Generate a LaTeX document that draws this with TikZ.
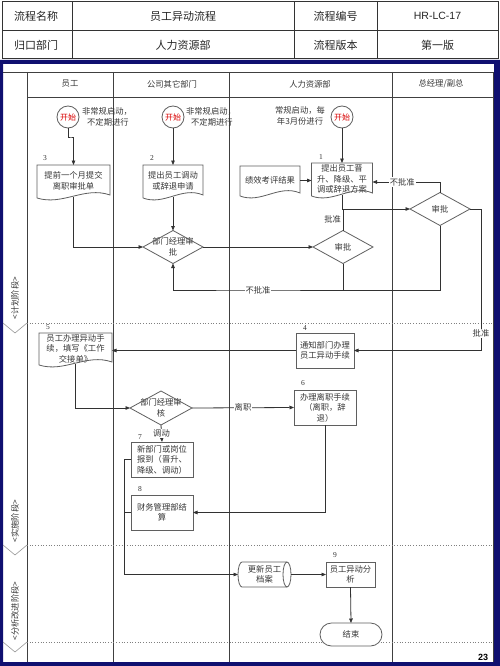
\documentclass[tikz,border=0pt]{standalone}
\usepackage{fontspec}
\setmainfont{Noto Sans CJK SC}
\newfontfamily\lsans{Liberation Sans}
\newfontfamily\lserif{Liberation Serif}
\usetikzlibrary{shapes.geometric,arrows.meta,calc}
\definecolor{navyb}{RGB}{16,16,112}
\definecolor{txt}{RGB}{55,55,55}
\definecolor{ln}{RGB}{50,50,50}
\definecolor{shpc}{RGB}{95,95,95}
\newcommand\docoutline[1]{%
  \draw[shp] ([yshift=-1pt]#1.south west) -- (#1.north west) -- (#1.north east) -- ([yshift=2pt]#1.south east)
    .. controls ($(#1.south east)!0.35!(#1.south west)+(0,-11)$) and ($(#1.south west)!0.35!(#1.south east)+(0,9)$) .. ([yshift=-1pt]#1.south west);}
\newcommand\diaoutline[1]{%
  \draw[shp] (#1.north) -- (#1.east) -- (#1.south) -- (#1.west) -- cycle;}
\begin{document}
\begin{tikzpicture}[x=1pt,y=-1pt,
  every node/.style={inner sep=0pt,outer sep=0pt},
  f/.style={font=\fontsize{8.3}{10.5}\selectfont, text=txt},
  hd/.style={font=\fontsize{11}{13}\selectfont, text=black!85},
  shp/.style={draw=shpc, line width=0.8pt},
  box/.style={shp, f, fill=white, align=center},
  ghost/.style={f, align=center},
  lane/.style={draw=black!75, line width=0.8pt},
  con/.style={draw=ln, line width=0.8pt},
  arr/.style={con, -{Triangle[length=4.5pt,width=3.6pt]}},
  lbl/.style={f, fill=white, inner sep=1pt},
  num/.style={font=\lserif\fontsize{7.5}{8}\selectfont, text=black!80},
  startc/.style={circle, shp, fill=white, minimum size=22pt, font=\fontsize{8}{9}\selectfont, text=red!85!black},
]
\fill[white] (0,0) rectangle (500,666);
\useasboundingbox (0,0) rectangle (500,666);

% header table
\draw[line width=1pt, black!80] (2,2) rectangle (498,59);
\draw[line width=0.8pt, black!80] (2,30) -- (498,30) (72,2) -- (72,59) (294,2) -- (294,59) (377,2) -- (377,59);
\node[hd] (h11) at (36,16) {流程名称};
\node[hd] (h12) at (183,16) {员工异动流程};
\node[hd] (h13) at (335.5,16) {流程编号};
\node[hd, font=\lsans\fontsize{10.5}{12}\selectfont] (h14) at (437.5,16) {HR-LC-17};
\node[hd] (h21) at (36,45) {归口部门};
\node[hd] (h22) at (183,45) {人力资源部};
\node[hd] (h23) at (335.5,45) {流程版本};
\node[hd] (h24) at (437.5,45) {第一版};

% navy frame
\fill[navyb, even odd rule] (0,60) rectangle (500,666) (3,64) rectangle (494,662);

% swimlane grid
\draw[lane] (3,72) -- (493,72);
\draw[lane] (27,97) -- (493,97);
\draw[lane] (27,72) -- (27,662) (113,72) -- (113,662) (229,72) -- (229,662) (392,72) -- (392,662) (493,72) -- (493,662);
\draw[gray, dotted, line width=0.7pt] (27,323) -- (493,323) (27,545) -- (493,545) (27,642) -- (493,642);
\draw[gray!80, line width=0.6pt] (3,323) -- (15,333) -- (27,323);
\draw[gray!80, line width=0.6pt] (3,545) -- (15,555) -- (27,545);
\draw[gray!80, line width=0.6pt] (3,642) -- (15,652) -- (27,642);

\node[f] (l1) at (70,84) {员工};
\node[f] (l2) at (172,84) {公司其它部门};
\node[f] (l3) at (310,84) {人力资源部};
\node[f] (l4) at (441,84) {总经理/副总};

\node[f, rotate=90] (p1) at (15,298) {<计划阶段>};
\node[f, rotate=90] (p2) at (15,521) {<实施阶段>};
\node[f, rotate=90] (p3) at (15,611) {<分析改进阶段>};

% start events
\node[startc] (s3) at (68,117) {开始};
\node[startc] (s2) at (173,117) {开始};
\node[startc] (s1) at (342,117) {开始};
\node[ghost] (a3) at (107,117) {非常规启动，\\\ 不定期进行};
\node[ghost] (a2) at (211,117) {非常规启动，\\\ 不定期进行};
\node[ghost] (a1) at (300,116) {常规启动，每\\年3月份进行};

% documents (plan phase)
\node[ghost, minimum width=73pt, minimum height=32pt] (d3) at (73.5,181) {提前一个月提交\\离职审批单};
\node[ghost, minimum width=60pt, minimum height=32pt] (d2) at (173,181) {提出员工调动\\或辞退申请};
\node[ghost, minimum width=61pt, minimum height=32pt] (d1) at (342,179) {提出员工晋\\升、降级、平\\调或辞退方案};
\node[ghost, minimum width=60pt, minimum height=29pt] (dk) at (270,180.5) {绩效考评结果};
\docoutline{d3}\docoutline{d2}\docoutline{d1}\docoutline{dk}
\node[num] (n3) at (45,158) {3};
\node[num] (n2) at (152,158) {2};
\node[num] (n1) at (321,157) {1};

% decisions (plan phase)
\node[ghost, minimum width=60pt, minimum height=33pt] (dm1) at (173,247) {部门经理审\\批};
\node[ghost, minimum width=60pt, minimum height=33pt] (hr) at (343,247) {审批};
\node[ghost, minimum width=60pt, minimum height=33pt] (gm) at (440,209) {审批};
\diaoutline{dm1}\diaoutline{hr}\diaoutline{gm}

% execution phase
\node[box, minimum width=58pt, minimum height=35pt] (b4) at (325,350.5) {通知部门办理\\员工异动手续};
\node[num] (n4) at (305,328) {4};
\node[ghost, minimum width=73pt, minimum height=31pt] (d5) at (75.5,348.5) {员工办理异动手\\续，填写《工作\\交接单》};
\docoutline{d5}
\node[num] (n5) at (48,327) {5};
\node[ghost, minimum width=62pt, minimum height=34pt] (dm2) at (161,408) {部门经理审\\核};
\diaoutline{dm2}
\node[box, minimum width=62pt, minimum height=35pt] (b6) at (325,407.5) {办理离职手续\\（离职，辞\\退）};
\node[num] (n6) at (303,383) {6};
\node[box, minimum width=62pt, minimum height=35pt] (b7) at (162,459.5) {新部门或岗位\\报到（晋升、\\降级、调动）};
\node[num] (n7) at (140,437) {7};
\node[box, minimum width=62pt, minimum height=35pt] (b8) at (162,512.5) {财务管理部结\\算};
\node[num] (n8) at (140,489) {8};

% analysis phase
\node[ghost, minimum width=53pt, minimum height=25pt] (cyl) at (264.5,574.5) {更新员工\\档案};
\draw[shp] ([xshift=4pt]cyl.north west) -- ([xshift=-4pt]cyl.north east)
  arc[start angle=90, end angle=-90, x radius=4pt, y radius=12.5pt]
  -- ([xshift=4pt]cyl.south west)
  arc[start angle=270, end angle=90, x radius=4pt, y radius=12.5pt] -- cycle;
\draw[shp] ([xshift=-4pt]cyl.north east) arc[start angle=90, end angle=270, x radius=4pt, y radius=12.5pt];
\node[box, minimum width=49pt, minimum height=25pt] (b9) at (350.5,574.5) {员工异动分\\析};
\node[num] (n9) at (335,555) {9};
\node[box, rounded corners=11.5pt, minimum width=62pt, minimum height=23pt] (end) at (351,634.5) {结束};

% connectors
\coordinate (j3) at (71,137);
\draw[arr] (s3.south) |- (j3) -| (d3.north);
\draw[arr] (s2.south) -- (d2.north);
\draw[arr] (s1.south) -- (d1.north);
\draw[arr] (dk.east) -- (dk.east -| d1.west);
\draw[arr] (gm.north) |- node[lbl, pos=0.78] {不批准} ([yshift=-3pt]d1.east);
\draw[arr] (d1.south) |- (gm.west);
\draw[con] (hr.north) -- node[lbl, left=1pt] {批准} (hr.north |- gm.west);
\draw[arr] (d3.south) |- (dm1.west);
\draw[arr] (d2.south) -- (dm1.north);
\draw[arr] (dm1.east) -- (hr.west);
\coordinate (nb) at (258,290);
\coordinate (nbj) at (343,290);
\draw[arr] (hr.south) |- (nb) -| (dm1.south);
\node[lbl] (nbl) at (nb) {不批准};
\draw[con] (gm.south) |- (nbj);
\coordinate (gmr) at (481,209);
\draw[arr] (gm.east) -- (gmr) |- node[lbl, pos=0.44] {批准} (b4.east);
\draw[arr] (b4.west) -- (b4.west -| d5.east);
\draw[arr] (d5.south) |- (dm2.west);
\draw[arr] (dm2.east) -- node[lbl] {离职} (b6.west);
\draw[arr] (dm2.south) -- node[lbl] {调动} (b7.north);
\draw[arr] (b6.south) |- (b8.east);
\coordinate (vj) at (124,459.5);
\draw[arr] (b7.west) -- (vj) |- (cyl.west);
\draw[con] (b8.west) -- (b8.west -| vj);
\draw[arr] (cyl.east) -- (b9.west);
\draw[arr] (b9.south) -- (end.north);

\node[font=\lsans\bfseries\fontsize{9}{10}\selectfont, text=black] (pg) at (483,657) {23};
\end{tikzpicture}
\end{document}
